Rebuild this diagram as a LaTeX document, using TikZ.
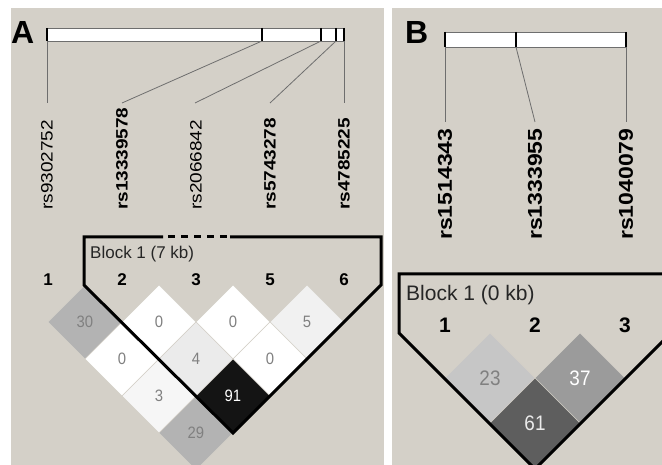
\documentclass[tikz,border=0pt]{standalone}
\usepackage{fontspec}
\setmainfont{Liberation Sans}
\newfontfamily\snpfont[FakeStretch=1.15]{Liberation Sans}
\newfontfamily\numfont[FakeStretch=0.9]{Liberation Sans}
\usetikzlibrary{shapes.geometric}
\definecolor{panelbg}{HTML}{D4D0C8}
\definecolor{linegray}{HTML}{6E6E6E}
\definecolor{numgray}{HTML}{808080}
\definecolor{ldA}{HTML}{B3B3B3}
\definecolor{ldB}{HTML}{F1F1F1}
\definecolor{ldC}{HTML}{EBEBEB}
\definecolor{ldD}{HTML}{F6F6F6}
\definecolor{ldE}{HTML}{141414}
\definecolor{ldF}{HTML}{C6C6C6}
\definecolor{ldG}{HTML}{9B9B9B}
\definecolor{ldH}{HTML}{5E5E5E}
\begin{document}
\begin{tikzpicture}[x=1pt,y=-1pt,
  panel/.style={fill=panelbg},
  bar/.style={fill=white, draw=linegray, line width=0.8pt},
  divider/.style={line width=1.6pt, black},
  conn/.style={linegray, line width=0.8pt},
  snpA/.style={rotate=90, anchor=west, inner sep=0pt, font=\snpfont\fontsize{16.5}{17}\selectfont},
  snpB/.style={rotate=90, anchor=west, inner sep=0pt, font=\snpfont\bfseries\fontsize{20}{21}\selectfont},
  letter/.style={anchor=south west, inner sep=0pt, font=\bfseries\fontsize{32}{32}\selectfont},
  mkA/.style={inner sep=0pt, font=\bfseries\fontsize{17}{17}\selectfont},
  mkB/.style={inner sep=0pt, font=\bfseries\fontsize{21}{21}\selectfont},
  blkA/.style={anchor=west, inner sep=0pt, text=black!85, font=\fontsize{17}{17}\selectfont},
  blkB/.style={anchor=west, inner sep=0pt, text=black!85, font=\fontsize{21}{21}\selectfont},
  cellA/.style={diamond, aspect=1, minimum size=74pt, inner sep=0pt, outer sep=0pt,
    draw=panelbg, line width=0.7pt, text=numgray, font=\numfont\fontsize{16.5}{16.5}\selectfont},
  cellB/.style={diamond, aspect=1, minimum size=90pt, inner sep=0pt, outer sep=0pt,
    draw=panelbg, line width=0.7pt, text=numgray, font=\numfont\fontsize{21}{21}\selectfont},
  outline/.style={line width=3pt, black, line join=miter}
]
\useasboundingbox (0,0) rectangle (662,465);
\clip (0,0) rectangle (662,465);
\fill[white] (0,0) rectangle (662,465);
\fill[panel] (11,8) rectangle (384,465);
\fill[panel] (392,8) rectangle (662,465);

% ---------------- Panel A ----------------
\node[letter] (pA) at (11,44) {A};
\draw[bar] (47,28) rectangle (344,41);
\foreach \x in {47,262,321,336,344} \draw[divider] (\x,28) -- (\x,41);

\coordinate (ba1) at (47,41);  \coordinate (ta1) at (47,103);
\coordinate (ba2) at (262,41); \coordinate (ta2) at (122,103);
\coordinate (ba3) at (321,41); \coordinate (ta3) at (195,103);
\coordinate (ba4) at (336,41); \coordinate (ta4) at (270,103);
\coordinate (ba5) at (344,41); \coordinate (ta5) at (344,103);
\foreach \i in {1,...,5} \draw[conn] (ba\i) -- (ta\i);

\node[snpA] (la1) at (47,210) {rs9302752};
\node[snpA, font=\snpfont\bfseries\fontsize{16.5}{17}\selectfont] (la2) at (122,210) {rs13339578};
\node[snpA] (la3) at (196,210) {rs2066842};
\node[snpA, font=\snpfont\bfseries\fontsize{16.5}{17}\selectfont] (la4) at (270,210) {rs5743278};
\node[snpA, font=\snpfont\bfseries\fontsize{16.5}{17}\selectfont] (la5) at (344,210) {rs4785225};

\node[mkA] (ma1) at (48,280) {1};
\node[mkA] (ma2) at (122,280) {2};
\node[mkA] (ma3) at (196,280) {3};
\node[mkA] (ma5) at (270,280) {5};
\node[mkA] (ma6) at (344,280) {6};

% LD cells A
\node[cellA, fill=ldA] (c12) at (85,322) {30};
\node[cellA, fill=white] (c23) at (159,322) {0};
\node[cellA, fill=white] (c35) at (233,322) {0};
\node[cellA, fill=ldB] (c56) at (307,322) {5};
\node[cellA, fill=white] (c13) at (122,359) {0};
\node[cellA, fill=ldC] (c25) at (196,359) {4};
\node[cellA, fill=white] (c36) at (270,359) {0};
\node[cellA, fill=ldD] (c15) at (159,396) {3};
\node[cellA, fill=ldE, text=white] (c26) at (233,396) {91};
\node[cellA, fill=ldA] (c16) at (196,433) {29};

\node[blkA] (bkA) at (90,254) {Block 1 (7 kb)};
\draw[outline] (163,237) -- (84,237) -- (84,285) -- (233,433) -- (381,285) -- (381,237) -- (230,237);
\draw[outline, dash pattern=on 7pt off 6pt] (168,237) -- (230,237);

% ---------------- Panel B ----------------
\node[letter] (pB) at (405,44) {B};
\draw[bar] (445,32) rectangle (626,47);
\foreach \x in {445,516,626} \draw[divider] (\x,32) -- (\x,47);

\coordinate (bb1) at (445,47); \coordinate (tb1) at (445,122);
\coordinate (bb2) at (516,47); \coordinate (tb2) at (535,122);
\coordinate (bb3) at (626,47); \coordinate (tb3) at (626,122);
\foreach \i in {1,2,3} \draw[conn] (bb\i) -- (tb\i);

\node[snpB] (lb1) at (445,240) {rs1514343};
\node[snpB] (lb2) at (535,240) {rs1333955};
\node[snpB] (lb3) at (626,240) {rs1040079};

\node[mkB] (mb1) at (445,325) {1};
\node[mkB] (mb2) at (535,325) {2};
\node[mkB] (mb3) at (625,325) {3};

\node[cellB, fill=ldF] (d12) at (490,378) {23};
\node[cellB, fill=ldG, text=white] (d23) at (580,378) {37};
\node[cellB, fill=ldH, text=white!92!black] (d13) at (535,423) {61};

\node[blkB] (bkB) at (406,295) {Block 1 (0 kb)};
\draw[outline] (700,274) -- (399,274) -- (399,333) -- (535,469) -- (680,324);
\end{tikzpicture}
\end{document}
